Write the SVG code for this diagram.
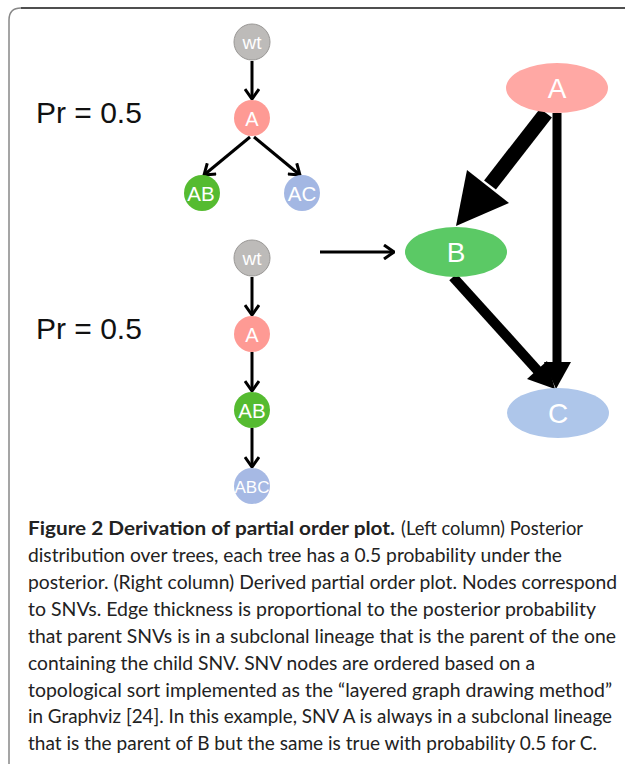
<svg xmlns="http://www.w3.org/2000/svg" width="625" height="768" viewBox="0 0 625 768">
<defs>
<marker id="chev" viewBox="0 0 12 16" refX="11" refY="8" markerWidth="12" markerHeight="16" markerUnits="userSpaceOnUse" orient="auto">
<polyline points="1,1 11,8 1,15" fill="none" stroke="#000" stroke-width="3"/>
</marker>
<style>
.edge{stroke:#000;stroke-width:3;fill:none;marker-end:url(#chev)}
.lbl{font-family:"Liberation Sans",Arial,sans-serif;fill:#fff;text-anchor:middle}
.big{font-family:"Liberation Sans",Arial,sans-serif;font-size:28px;fill:#fff;text-anchor:middle}
.pr{font-family:"Liberation Sans",Arial,sans-serif;font-size:30px;fill:#111}
.cap{font-family:Lato,"Open Sans",sans-serif;font-size:18.5px;fill:#222}
.capb{font-family:Lato,"Open Sans",sans-serif;font-size:18.5px;font-weight:bold;fill:#222}
</style>
</defs>
<rect width="625" height="768" fill="#fff"/>
<path d="M9,764 L9,20 Q9,8 21,8 L625,8" fill="none" stroke="#888" stroke-width="1.5"/>
<path d="M21,8 L625,8" fill="none" stroke="#333" stroke-width="1.5"/>

<text class="pr" x="36" y="123">Pr = 0.5</text>
<text class="pr" x="36" y="339">Pr = 0.5</text>

<g id="connectors">
<line class="edge" x1="252" y1="61" x2="252" y2="99"/>
<line class="edge" x1="250" y1="137" x2="204" y2="175"/>
<line class="edge" x1="254" y1="137" x2="300" y2="175"/>
<line class="edge" x1="252" y1="277" x2="252" y2="315"/>
<line class="edge" x1="252" y1="352" x2="252" y2="391"/>
<line class="edge" x1="252" y1="428" x2="252" y2="467"/>
<line class="edge" x1="320" y1="252" x2="394" y2="252"/>
<line x1="546" y1="113" x2="490" y2="185" stroke="#000" stroke-width="15"/>
<polygon points="467,170 509,203 456,226" fill="#000"/>
<line x1="557" y1="113" x2="557" y2="363" stroke="#000" stroke-width="9"/>
<polygon points="544,362 571,362 556,389" fill="#000"/>
<line x1="453" y1="277" x2="538" y2="371" stroke="#000" stroke-width="10"/>
<polygon points="527,379 547,361 555,389" fill="#000"/>
</g>

<g id="t1-wt"><circle cx="252" cy="42" r="18" fill="#bdbbb9" stroke="#9a9896" stroke-width="1"/><text class="lbl" x="252" y="49" font-size="19">wt</text></g>
<g id="t1-A"><circle cx="252" cy="118" r="18" fill="#fe9a94"/><text class="lbl" x="252" y="125.5" font-size="20">A</text></g>
<g id="t1-AB"><circle cx="202" cy="193" r="18" fill="#55bb30"/><text class="lbl" x="201" y="200.5" font-size="20.5">AB</text></g>
<g id="t1-AC"><circle cx="302" cy="193" r="18" fill="#a3b7e3"/><text class="lbl" x="302" y="200.5" font-size="20.5">AC</text></g>

<g id="t2-wt"><circle cx="252" cy="258" r="18" fill="#bdbbb9" stroke="#9a9896" stroke-width="1"/><text class="lbl" x="252" y="265" font-size="19">wt</text></g>
<g id="t2-A"><circle cx="252" cy="334" r="18" fill="#fe9a94"/><text class="lbl" x="252" y="341.5" font-size="20">A</text></g>
<g id="t2-AB"><circle cx="252" cy="410" r="18" fill="#55bb30"/><text class="lbl" x="252" y="417.5" font-size="20.5">AB</text></g>
<g id="t2-ABC"><circle cx="252" cy="486" r="18" fill="#a6b9e4"/><text class="lbl" x="252" y="492.5" font-size="17" textLength="35" lengthAdjust="spacingAndGlyphs">ABC</text></g>

<g id="g-A"><ellipse cx="557" cy="88" rx="51" ry="25" fill="#ffa8a4"/><text class="big" x="557" y="98">A</text></g>
<g id="g-B"><ellipse cx="456" cy="252" rx="51" ry="25" fill="#5bc965"/><text class="big" x="456" y="262">B</text></g>
<g id="g-C"><ellipse cx="558" cy="413" rx="51" ry="25" fill="#aec6ea"/><text class="big" x="558" y="423">C</text></g>

<g id="caption">
<text class="capb" x="28" y="535" textLength="367" lengthAdjust="spacingAndGlyphs">Figure 2 Derivation of partial order plot.</text>
<text class="cap" x="401" y="535" textLength="182" lengthAdjust="spacingAndGlyphs">(Left column) Posterior</text>
<text class="cap" x="28" y="562" textLength="534" lengthAdjust="spacingAndGlyphs">distribution over trees, each tree has a 0.5 probability under the</text>
<text class="cap" x="28" y="589" textLength="589" lengthAdjust="spacingAndGlyphs">posterior. (Right column) Derived partial order plot. Nodes correspond</text>
<text class="cap" x="28" y="616" textLength="568" lengthAdjust="spacingAndGlyphs">to SNVs. Edge thickness is proportional to the posterior probability</text>
<text class="cap" x="28" y="643" textLength="588" lengthAdjust="spacingAndGlyphs">that parent SNVs is in a subclonal lineage that is the parent of the one</text>
<text class="cap" x="28" y="670" textLength="507" lengthAdjust="spacingAndGlyphs">containing the child SNV. SNV nodes are ordered based on a</text>
<text class="cap" x="28" y="697" textLength="584" lengthAdjust="spacingAndGlyphs">topological sort implemented as the “layered graph drawing method”</text>
<text class="cap" x="28" y="723" textLength="584" lengthAdjust="spacingAndGlyphs">in Graphviz [24]. In this example, SNV A is always in a subclonal lineage</text>
<text class="cap" x="28" y="750" textLength="569" lengthAdjust="spacingAndGlyphs">that is the parent of B but the same is true with probability 0.5 for C.</text>
</g>
</svg>
